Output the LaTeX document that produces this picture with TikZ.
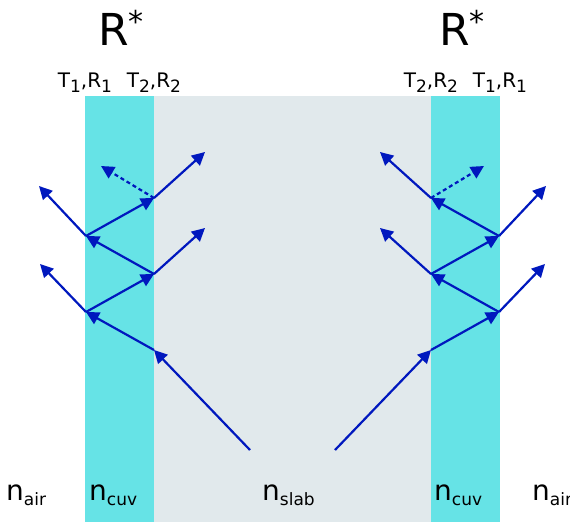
\documentclass[tikz,border=0pt]{standalone}
\usepackage{fontspec}
\setmainfont{DejaVu Sans}
\usetikzlibrary{arrows.meta}
\definecolor{cuvcyan}{RGB}{102,227,230}
\definecolor{slabgray}{RGB}{225,233,236}
\definecolor{raybl}{RGB}{0,24,190}
\newcommand\subtxt[1]{\lower5pt\hbox{\fontsize{17}{17}\selectfont #1}}
\newcommand\bigstar{\raisebox{13pt}{\fontsize{30}{30}\selectfont *}}
\begin{document}
\begin{tikzpicture}[x=1pt, y=-1pt,
    ray/.style={raybl, line width=2.2pt, -{Triangle[length=13pt,width=13pt]}},
    dray/.style={ray, dash pattern=on 4pt off 3pt},
    rlab/.style={anchor=base west, inner sep=0pt, font=\fontsize{44}{44}\selectfont},
    tlab/.style={anchor=base, inner sep=0pt, font=\fontsize{20}{20}\selectfont},
    nlab/.style={anchor=base west, inner sep=0pt, font=\fontsize{28}{28}\selectfont}
]
    \useasboundingbox (0,0) rectangle (570,522);
    \clip (0,0) rectangle (570,522);

    \fill[cuvcyan]  (85,96)  rectangle (154,522);
    \fill[slabgray] (154,96) rectangle (431,522);
    \fill[cuvcyan]  (431,96) rectangle (500,522);

    \node[rlab] (RL) at (98,45)  {R\bigstar};
    \node[rlab] (RR) at (439,45) {R\bigstar};

    \node[tlab] (TL1) at (85,87)  {T\subtxt{1},R\subtxt{1}};
    \node[tlab] (TL2) at (154,87) {T\subtxt{2},R\subtxt{2}};
    \node[tlab] (TR2) at (431,87) {T\subtxt{2},R\subtxt{2}};
    \node[tlab] (TR1) at (500,87) {T\subtxt{1},R\subtxt{1}};

    \node[nlab] (airL)  at (6,500)   {n\subtxt{air}};
    \node[nlab] (cuvL)  at (89,500)  {n\subtxt{cuv}};
    \node[nlab] (slab)  at (262,500) {n\subtxt{slab}};
    \node[nlab] (cuvR)  at (434,500) {n\subtxt{cuv}};
    \node[nlab] (airR)  at (532,500) {n\subtxt{air}};

    % left cuvette
    \coordinate (inL) at (250,450);
    \coordinate (L1) at (154,350);
    \coordinate (L2) at (86,312);
    \coordinate (L3) at (154,274);
    \coordinate (L4) at (86,236);
    \coordinate (L5) at (154,198);
    \coordinate (La1) at (40,264);
    \coordinate (La2) at (39,186);
    \coordinate (Ls1) at (205,228);
    \coordinate (Ls2) at (205,152);
    \coordinate (Ld) at (101,166);

    \draw[ray] (inL) -- (L1);
    \draw[ray] (L1) -- (L2);
    \draw[ray] (L2) -- (La1);
    \draw[ray] (L2) -- (L3);
    \draw[ray] (L3) -- (Ls1);
    \draw[ray] (L3) -- (L4);
    \draw[ray] (L4) -- (La2);
    \draw[ray] (L4) -- (L5);
    \draw[ray] (L5) -- (Ls2);
    \draw[dray] (L5) -- (Ld);

    % right cuvette
    \coordinate (inR) at (335,450);
    \coordinate (R1) at (431,350);
    \coordinate (R2) at (499,312);
    \coordinate (R3) at (431,274);
    \coordinate (R4) at (499,236);
    \coordinate (R5) at (431,198);
    \coordinate (Ra1) at (545,264);
    \coordinate (Ra2) at (546,186);
    \coordinate (Rs1) at (380,228);
    \coordinate (Rs2) at (380,152);
    \coordinate (Rd) at (484,166);

    \draw[ray] (inR) -- (R1);
    \draw[ray] (R1) -- (R2);
    \draw[ray] (R2) -- (Ra1);
    \draw[ray] (R2) -- (R3);
    \draw[ray] (R3) -- (Rs1);
    \draw[ray] (R3) -- (R4);
    \draw[ray] (R4) -- (Ra2);
    \draw[ray] (R4) -- (R5);
    \draw[ray] (R5) -- (Rs2);
    \draw[dray] (R5) -- (Rd);
\end{tikzpicture}
\end{document}
